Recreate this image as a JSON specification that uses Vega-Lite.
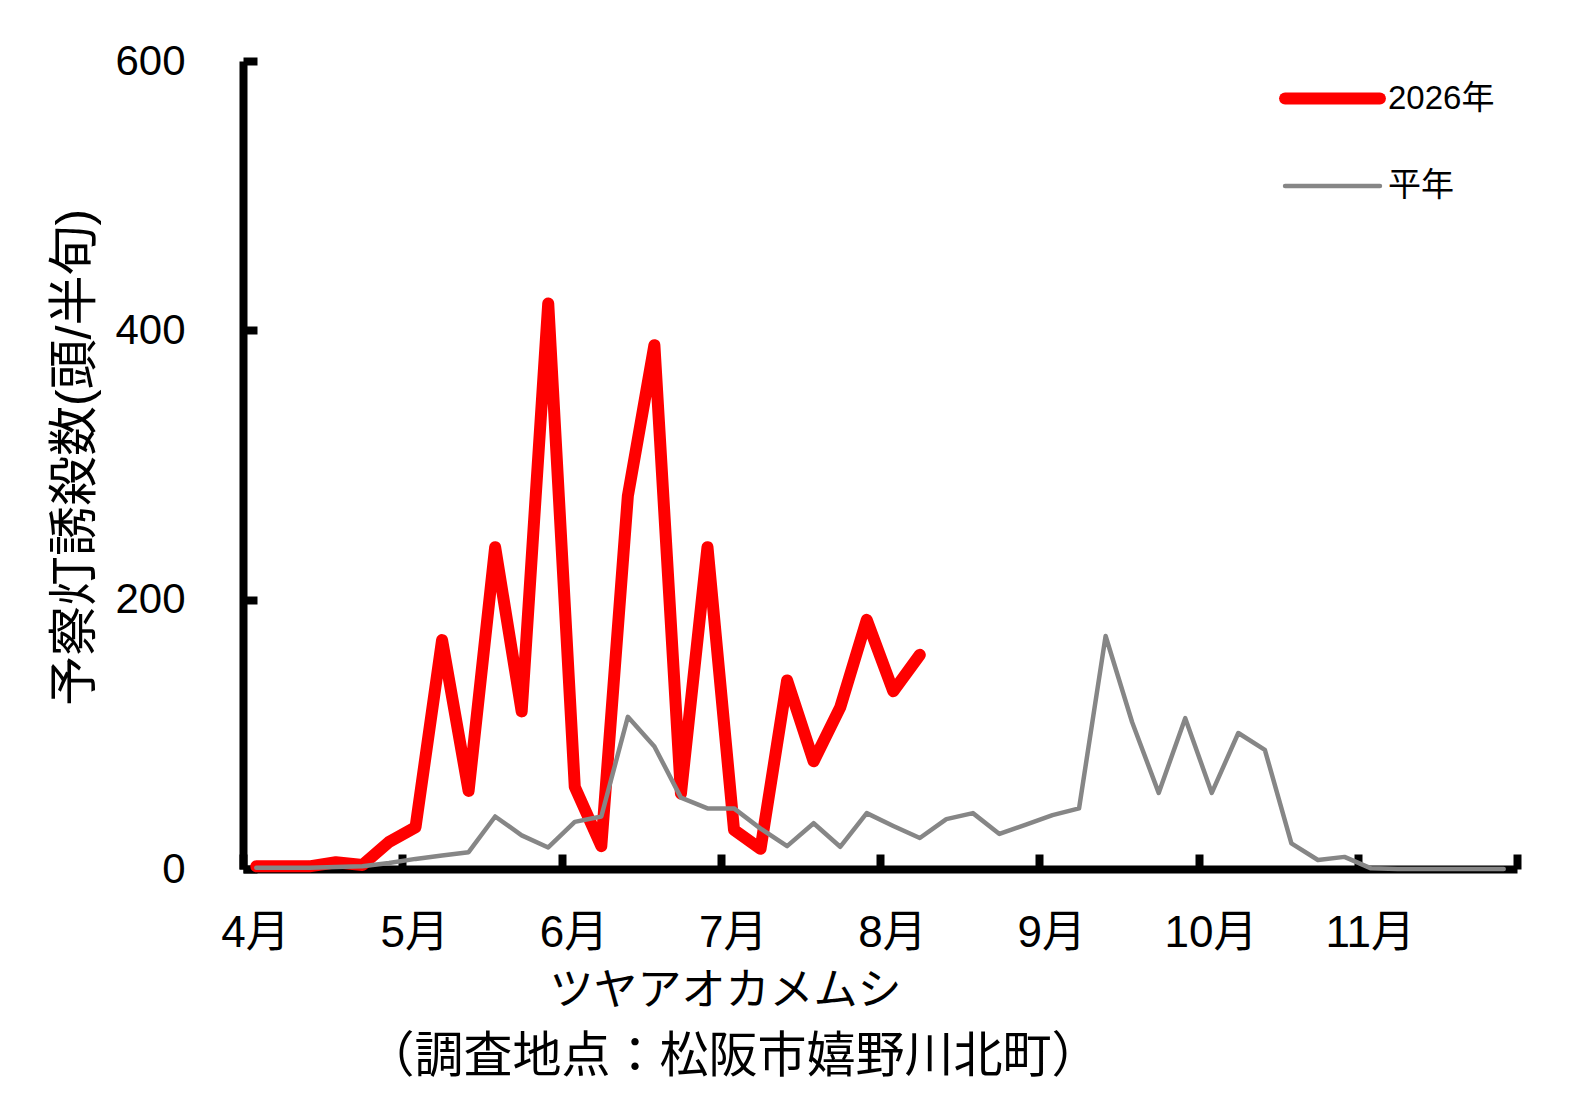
{
  "$schema": "https://vega.github.io/schema/vega-lite/v6.json",
  "width": 1274,
  "height": 808,
  "autosize": "none",
  "padding": {"left": 243, "top": 61, "right": 64, "bottom": 248},
  "background": "white",
  "title": {
    "text": "（調査地点：松阪市嬉野川北町）",
    "orient": "bottom",
    "anchor": "middle",
    "dx": -147,
    "offset": 20,
    "fontSize": 49,
    "fontWeight": "normal",
    "color": "black"
  },
  "config": {
    "view": {"stroke": null},
    "font": "Liberation Sans, Noto Sans CJK JP",
    "axis": {
      "domainColor": "black",
      "domainWidth": 8,
      "tickColor": "black",
      "tickWidth": 8,
      "labelColor": "black",
      "labelFont": "Liberation Sans, Noto Sans CJK JP",
      "titleColor": "black",
      "titleFont": "Liberation Sans, Noto Sans CJK JP",
      "titleFontWeight": "normal",
      "grid": false
    },
    "legend": {
      "labelColor": "black",
      "labelFont": "Liberation Sans, Noto Sans CJK JP",
      "labelFontSize": 33
    },
    "title": {"font": "Liberation Sans, Noto Sans CJK JP"}
  },
  "data": {
    "values": [
      {"hanjun": 1, "series": "2026年", "count": 2},
      {"hanjun": 2, "series": "2026年", "count": 2},
      {"hanjun": 3, "series": "2026年", "count": 2},
      {"hanjun": 4, "series": "2026年", "count": 5},
      {"hanjun": 5, "series": "2026年", "count": 3},
      {"hanjun": 6, "series": "2026年", "count": 20},
      {"hanjun": 7, "series": "2026年", "count": 31},
      {"hanjun": 8, "series": "2026年", "count": 170},
      {"hanjun": 9, "series": "2026年", "count": 58},
      {"hanjun": 10, "series": "2026年", "count": 239},
      {"hanjun": 11, "series": "2026年", "count": 117},
      {"hanjun": 12, "series": "2026年", "count": 420},
      {"hanjun": 13, "series": "2026年", "count": 61},
      {"hanjun": 14, "series": "2026年", "count": 17},
      {"hanjun": 15, "series": "2026年", "count": 277},
      {"hanjun": 16, "series": "2026年", "count": 389},
      {"hanjun": 17, "series": "2026年", "count": 56},
      {"hanjun": 18, "series": "2026年", "count": 239},
      {"hanjun": 19, "series": "2026年", "count": 29},
      {"hanjun": 20, "series": "2026年", "count": 15},
      {"hanjun": 21, "series": "2026年", "count": 140},
      {"hanjun": 22, "series": "2026年", "count": 80},
      {"hanjun": 23, "series": "2026年", "count": 120},
      {"hanjun": 24, "series": "2026年", "count": 185},
      {"hanjun": 25, "series": "2026年", "count": 132},
      {"hanjun": 26, "series": "2026年", "count": 159},
      {"hanjun": 1, "series": "平年", "count": 1},
      {"hanjun": 2, "series": "平年", "count": 1},
      {"hanjun": 3, "series": "平年", "count": 1},
      {"hanjun": 4, "series": "平年", "count": 1.5},
      {"hanjun": 5, "series": "平年", "count": 2},
      {"hanjun": 6, "series": "平年", "count": 4.5},
      {"hanjun": 7, "series": "平年", "count": 7.5},
      {"hanjun": 8, "series": "平年", "count": 10},
      {"hanjun": 9, "series": "平年", "count": 12.5},
      {"hanjun": 10, "series": "平年", "count": 39},
      {"hanjun": 11, "series": "平年", "count": 25},
      {"hanjun": 12, "series": "平年", "count": 16},
      {"hanjun": 13, "series": "平年", "count": 35},
      {"hanjun": 14, "series": "平年", "count": 39},
      {"hanjun": 15, "series": "平年", "count": 113},
      {"hanjun": 16, "series": "平年", "count": 91},
      {"hanjun": 17, "series": "平年", "count": 53},
      {"hanjun": 18, "series": "平年", "count": 45},
      {"hanjun": 19, "series": "平年", "count": 45},
      {"hanjun": 20, "series": "平年", "count": 30},
      {"hanjun": 21, "series": "平年", "count": 17},
      {"hanjun": 22, "series": "平年", "count": 34},
      {"hanjun": 23, "series": "平年", "count": 16.5},
      {"hanjun": 24, "series": "平年", "count": 41.5},
      {"hanjun": 25, "series": "平年", "count": 32},
      {"hanjun": 26, "series": "平年", "count": 23},
      {"hanjun": 27, "series": "平年", "count": 37},
      {"hanjun": 28, "series": "平年", "count": 41.5},
      {"hanjun": 29, "series": "平年", "count": 26},
      {"hanjun": 30, "series": "平年", "count": 33},
      {"hanjun": 31, "series": "平年", "count": 40},
      {"hanjun": 32, "series": "平年", "count": 45},
      {"hanjun": 33, "series": "平年", "count": 173},
      {"hanjun": 34, "series": "平年", "count": 109},
      {"hanjun": 35, "series": "平年", "count": 56.5},
      {"hanjun": 36, "series": "平年", "count": 112},
      {"hanjun": 37, "series": "平年", "count": 56.5},
      {"hanjun": 38, "series": "平年", "count": 101},
      {"hanjun": 39, "series": "平年", "count": 88.5},
      {"hanjun": 40, "series": "平年", "count": 19},
      {"hanjun": 41, "series": "平年", "count": 6.7},
      {"hanjun": 42, "series": "平年", "count": 9},
      {"hanjun": 43, "series": "平年", "count": 0.5},
      {"hanjun": 44, "series": "平年", "count": 0},
      {"hanjun": 45, "series": "平年", "count": 0},
      {"hanjun": 46, "series": "平年", "count": 0},
      {"hanjun": 47, "series": "平年", "count": 0},
      {"hanjun": 48, "series": "平年", "count": 0}
    ]
  },
  "encoding": {
    "x": {
      "field": "hanjun",
      "type": "quantitative",
      "scale": {"domain": [0.5, 48.5], "nice": false, "zero": false},
      "axis": {
        "values": [0.5, 6.5, 12.5, 18.5, 24.5, 30.5, 36.5, 42.5, 48.5],
        "labelExpr": "datum.value > 48 ? '' : (floor(datum.value / 6) + 4) + '月'",
        "tickSize": -15,
        "labelPadding": 57,
        "labelOffset": 12,
        "labelFontSize": 44,
        "labelFlush": false,
        "labelOverlap": false,
        "title": "ツヤアオカメムシ",
        "titleFontSize": 44,
        "titleBaseline": "top",
        "titleAnchor": "middle",
        "titleX": 482,
        "titleY": 100
      }
    },
    "y": {
      "field": "count",
      "type": "quantitative",
      "scale": {"domain": [0, 600], "nice": false},
      "axis": {
        "values": [0, 200, 400, 600],
        "tickSize": -14,
        "labelPadding": 72,
        "labelFontSize": 42,
        "labelFlush": false,
        "title": "予察灯誘殺数(頭/半旬)",
        "titleFontSize": 50,
        "titleAngle": -90,
        "titleBaseline": "middle",
        "titleAnchor": "middle",
        "titleX": -168,
        "titleY": 396
      }
    },
    "color": {
      "field": "series",
      "type": "nominal",
      "scale": {"domain": ["2026年", "平年"], "range": ["#ff0000", "#868686"]},
      "legend": {
        "title": null,
        "orient": "none",
        "legendX": 1036,
        "legendY": -16,
        "symbolType": "stroke",
        "symbolSize": 9000,
        "rowPadding": 13,
        "labelOffset": 2,
        "encode": {"symbols": {"update": {"strokeCap": {"value": "round"}}}}
      }
    },
    "strokeWidth": {
      "field": "series",
      "type": "nominal",
      "scale": {"domain": ["2026年", "平年"], "range": [12, 4.5]},
      "legend": null
    }
  },
  "layer": [
    {
      "transform": [{"filter": "datum.series === '2026年'"}],
      "mark": {"type": "line", "strokeCap": "round", "strokeJoin": "round"}
    },
    {
      "transform": [{"filter": "datum.series === '平年'"}],
      "mark": {"type": "line", "strokeCap": "round", "strokeJoin": "round"}
    }
  ]
}
